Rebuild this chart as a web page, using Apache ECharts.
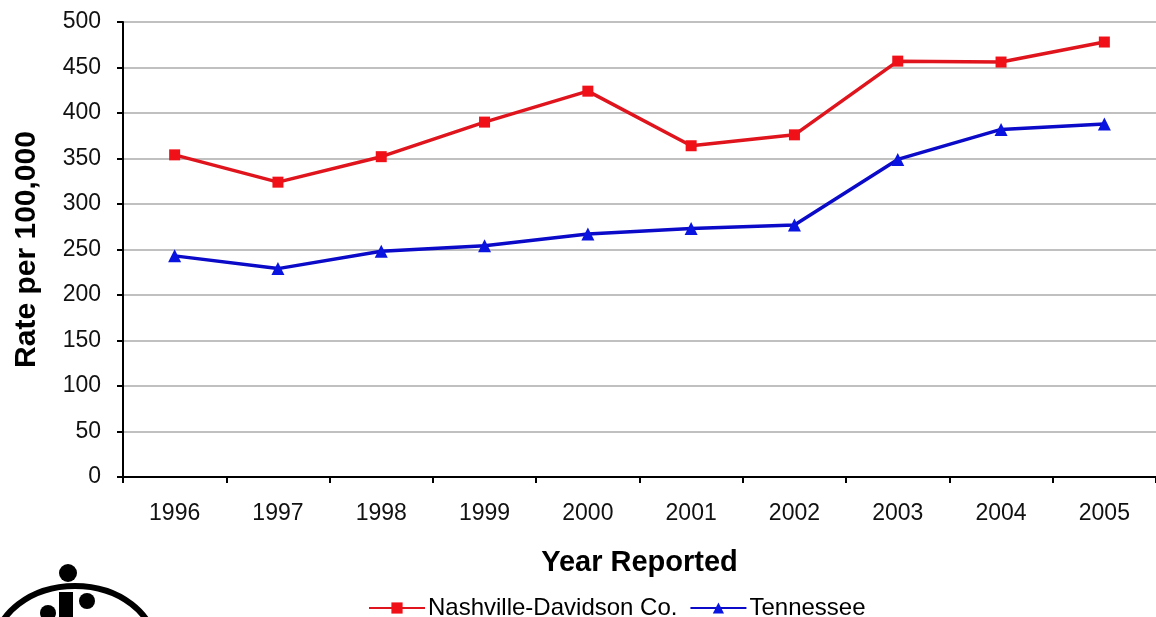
<!DOCTYPE html>
<html><head><meta charset="utf-8">
<script src="https://cdn.jsdelivr.net/npm/echarts@6/dist/echarts.min.js"></script>
<style>html,body{margin:0;padding:0;background:#fff}#c{width:1156px;height:617px}</style>
</head><body><div id="c"></div>
<script>
const years = ['1996','1997','1998','1999','2000','2001','2002','2003','2004','2005'];
const nashville = [354, 324, 352, 390, 424, 364, 376, 457, 456, 478];
const tennessee = [243, 229, 248, 254, 267, 273, 277, 349, 382, 388];
const seriesNames = ['Nashville-Davidson Co.', 'Tennessee'];

const chart = echarts.init(document.getElementById('c'));
const font = 'Liberation Sans, Arial, sans-serif';
chart.setOption({
  animation: false,
  backgroundColor: '#fff',
  grid: {left: 123, top: 22, right: 0, bottom: 140},
  legend: {
    top: 596, left: 368, itemGap: 12, itemWidth: 56, itemHeight: 14, padding: 0,
    textStyle: {fontFamily: font, fontSize: 24, lineHeight: 24, color: '#000', padding: [0, 0, 0, -2]},
    data: seriesNames
  },
  xAxis: {
    type: 'category', data: years, boundaryGap: true,
    name: 'Year Reported', nameLocation: 'middle', nameGap: 71,
    nameTextStyle: {fontFamily: font, fontSize: 29, fontWeight: 'bold', color: '#000'},
    axisLine: {lineStyle: {color: '#000', width: 2}},
    axisTick: {show: true, length: 6, lineStyle: {color: '#000', width: 2}},
    axisLabel: {fontFamily: font, fontSize: 23, color: '#111', margin: 25}
  },
  yAxis: {
    type: 'value', min: 0, max: 500, interval: 50,
    name: 'Rate per 100,000', nameLocation: 'middle', nameGap: 81,
    nameTextStyle: {fontFamily: font, fontSize: 30, fontWeight: 'bold', color: '#000'},
    axisLine: {show: true, lineStyle: {color: '#000', width: 2}},
    axisTick: {show: true, length: 6, lineStyle: {color: '#000', width: 2}},
    axisLabel: {fontFamily: font, fontSize: 23, color: '#111', margin: 22},
    splitLine: {lineStyle: {color: '#c0c0c0', width: 2}}
  },
  series: [
    {name: seriesNames[0], type: 'line', data: nashville, symbol: 'rect', symbolSize: 11,
     lineStyle: {color: '#e0141c', width: 3.5}, itemStyle: {color: '#f01018'}},
    {name: seriesNames[1], type: 'line', data: tennessee, symbol: 'triangle', symbolSize: 13,
     lineStyle: {color: '#0a0ac8', width: 3.5}, itemStyle: {color: '#0a14e0'}}
  ],
  graphic: [
    {type: 'ellipse', shape: {cx: 75, cy: 648, rx: 80, ry: 62}, style: {fill: 'none', stroke: '#000', lineWidth: 6}},
    {type: 'circle', shape: {cx: 68, cy: 573, r: 9}, style: {fill: '#000'}},
    {type: 'rect', shape: {x: 59, y: 592, width: 14, height: 30}, style: {fill: '#000'}},
    {type: 'circle', shape: {cx: 87, cy: 601, r: 8}, style: {fill: '#000'}},
    {type: 'circle', shape: {cx: 48, cy: 613, r: 8}, style: {fill: '#000'}}
  ]
});
</script></body></html>
